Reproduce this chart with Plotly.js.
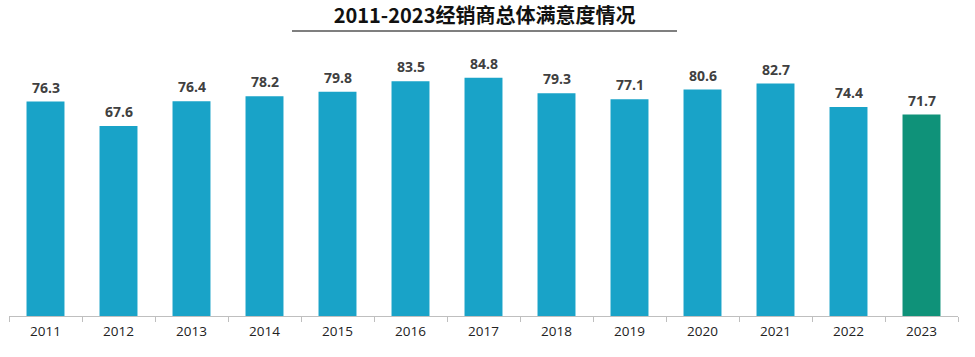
<!DOCTYPE html>
<html><head><meta charset="utf-8">
<script src="https://cdn.plot.ly/plotly-3.0.1.min.js"></script>
<style>html,body{margin:0;padding:0;background:#fff}#c{width:975px;height:357px}</style>
</head><body><div id="c"></div>
<script>
const years = ['2011','2012','2013','2014','2015','2016','2017','2018','2019','2020','2021','2022','2023'];
const scores = [76.3,67.6,76.4,78.2,79.8,83.5,84.8,79.3,77.1,80.6,82.7,74.4,71.7];
const barColors = years.map((y,i)=> i===years.length-1 ? '#0f9279' : '#19a3c8');

const trace = {
  type:'bar', x:years, y:scores,
  marker:{color:barColors},
  width:0.52,
  hoverinfo:'x+y'
};
const labels = years.map((y,i)=>({
  x:i, y:scores[i], xref:'x', yref:'y', text:'<b>'+scores[i].toFixed(1)+'</b>',
  showarrow:false, yanchor:'bottom', yshift:3,
  font:{family:'Open Sans, Noto Sans CJK SC, sans-serif', size:14, color:'#404040'}
}));
const plotH = 357-35-41;
const layout = {
  width:975, height:357,
  margin:{l:9, r:17, t:35, b:41},
  paper_bgcolor:'#fff', plot_bgcolor:'#fff',
  showlegend:false,
  title:{text:'<b>2011-2023经销商总体满意度情况</b>', x:0.497, xanchor:'center', y:0.955, yanchor:'middle',
    font:{family:'Noto Sans CJK SC, sans-serif', size:20, color:'#111'}},
  xaxis:{type:'category', range:[-0.5, years.length-0.5], autorange:false, showline:true, linecolor:'#bfbfbf', linewidth:1,
    ticks:'outside', ticklen:5, tickcolor:'#bfbfbf', tickson:'boundaries', ticklabelstandoff:3,
    tickfont:{family:'Open Sans, sans-serif', size:13.5, color:'#222'}, showgrid:false, zeroline:false},
  yaxis:{range:[0,100], autorange:false, visible:false, showgrid:false, zeroline:false},
  annotations:labels,
  shapes:[{type:'line', xref:'paper', yref:'paper', x0:(292-9)/949, x1:(677-9)/949,
    y0:(357-41-31)/plotH, y1:(357-41-31)/plotH, line:{color:'#555', width:1.5}}]
};
Plotly.newPlot('c',[trace],layout,{displayModeBar:false,staticPlot:true});
</script></body></html>
